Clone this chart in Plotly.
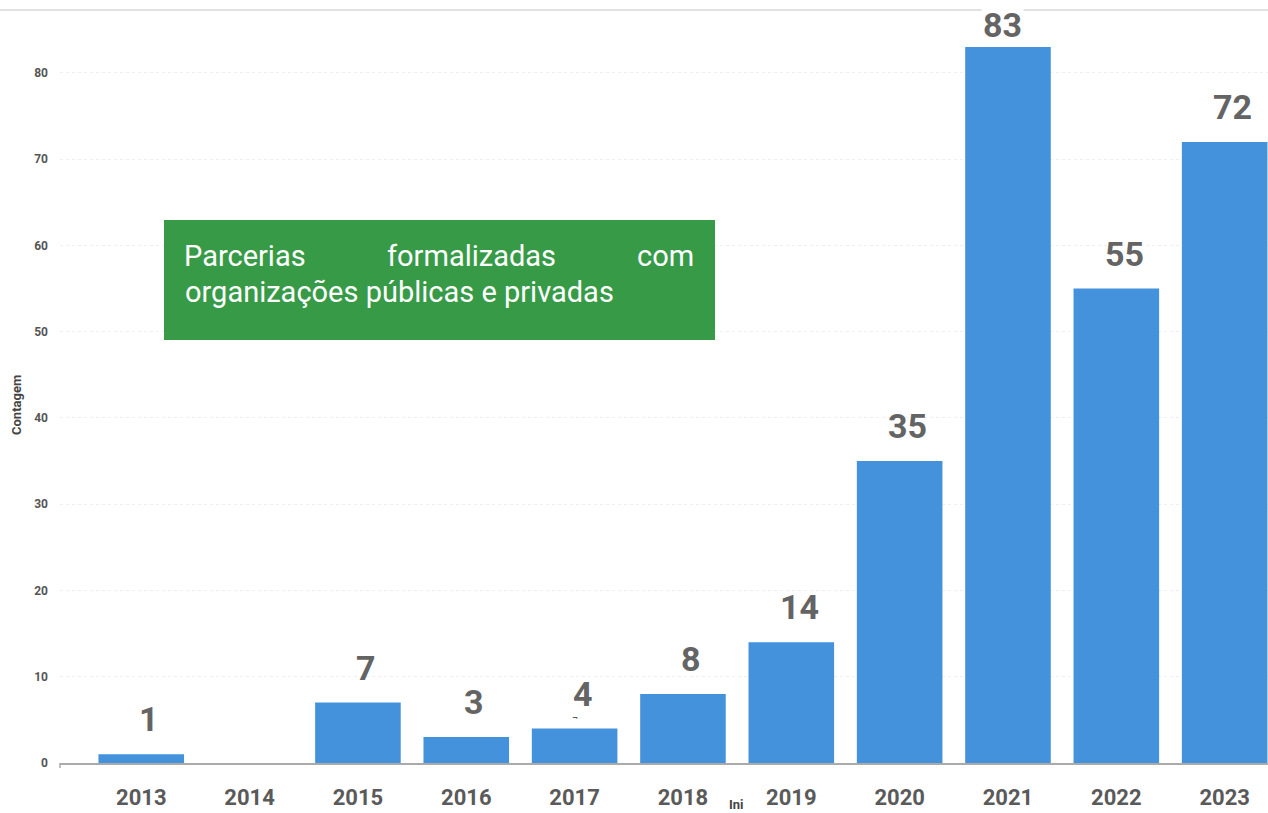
import plotly.graph_objects as go

years = ["2013", "2014", "2015", "2016", "2017", "2018", "2019", "2020", "2021", "2022", "2023"]
counts = [1, 0, 7, 3, 4, 8, 14, 35, 83, 55, 72]
y_ticks = [0, 10, 20, 30, 40, 50, 60, 70, 80]
box_line1 = ["Parcerias", "formalizadas", "com"]
box_line2 = "organizações públicas e privadas"

W, H = 1268, 813
L, R, T, B = 60, 0, 10, 50
PW, PH = W - L - R, H - T - B

def px(x):
    return (x - L) / PW

def py(y):
    return (H - B - y) / PH

FONT = "Roboto"
fig = go.Figure()
fig.add_trace(go.Bar(
    x=years, y=counts, marker=dict(color="#4592dc", line=dict(width=0)),
    width=0.79, hoverinfo="skip",
))

annotations = []
for i, (yr, v) in enumerate(zip(years, counts)):
    if v > 0:
        top = v == max(counts)
        ann = dict(
            x=i, y=v, xref="x", yref="y", text=f"<b>{v}</b>", showarrow=False,
            yanchor="middle", yshift=22 if top else 35, xshift=-5 if top else 8,
            font=dict(family=FONT, size=34, color="#646464"),
        )
        if top:
            ann["bgcolor"] = "white"
        annotations.append(ann)

BOX_FONT = dict(family=FONT, size=29, color="white")
annotations += [
    dict(x=px(182), y=py(256), xref="paper", yref="paper", text=box_line1[0], showarrow=False,
         xanchor="left", yanchor="middle", font=BOX_FONT),
    dict(x=px(471), y=py(256), xref="paper", yref="paper", text=box_line1[1], showarrow=False,
         xanchor="center", yanchor="middle", font=BOX_FONT),
    dict(x=px(696), y=py(256), xref="paper", yref="paper", text=box_line1[2], showarrow=False,
         xanchor="right", yanchor="middle", font=BOX_FONT),
    dict(x=px(183), y=py(292), xref="paper", yref="paper", text=box_line2, showarrow=False,
         xanchor="left", yanchor="middle", font=BOX_FONT),
    dict(x=px(16), y=py(405), xref="paper", yref="paper", text="<b>Contagem</b>", showarrow=False,
         textangle=-90, xanchor="center", yanchor="middle", font=dict(family=FONT, size=13, color="#444")),
    dict(x=px(736), y=py(804), xref="paper", yref="paper", text="<b>Ini</b>", showarrow=False,
         xanchor="center", yanchor="middle", font=dict(family=FONT, size=13, color="#444")),
    dict(x=4, y=5.2, xref="x", yref="y", text="¬", showarrow=False,
         font=dict(family="DejaVu Sans", size=7, color="#333")),
]

shapes = [
    dict(type="line", xref="paper", yref="paper", x0=px(0), x1=1, y0=py(10), y1=py(10),
         line=dict(color="#e2e2e2", width=2), layer="below"),
    dict(type="rect", xref="paper", yref="paper", x0=px(164), x1=px(715), y0=py(340), y1=py(220),
         fillcolor="#379a47", line=dict(width=0), layer="above"),
    dict(type="line", xref="paper", yref="paper", x0=0, x1=0, y0=0, y1=py(768),
         line=dict(color="#aaaaaa", width=1.5)),
]

fig.update_layout(
    width=W, height=H, margin=dict(l=L, r=R, t=T, b=B),
    paper_bgcolor="white", plot_bgcolor="white", showlegend=False,
    annotations=annotations, shapes=shapes, bargap=0.21,
    font=dict(family=FONT),
)
fig.update_xaxes(
    type="category", range=[-0.75, 10.4], showgrid=False, showline=True,
    linecolor="#aaaaaa", linewidth=1.5, ticks="", ticklabelstandoff=14,
    tickfont=dict(family=FONT, size=22, color="#5a5a5a", weight="bold"),
)
fig.update_yaxes(
    range=[0, 87.3], tickvals=y_ticks, showgrid=True, gridcolor="#efefef", griddash="dot",
    zeroline=False, showline=False, ticks="", ticklabelstandoff=11,
    tickfont=dict(family=FONT, size=12, color="#555555", weight="bold"),
)

fig.write_html("out.html", config={"displayModeBar": False},
               post_script="document.body.style.margin='0';document.body.style.overflow='hidden';")
